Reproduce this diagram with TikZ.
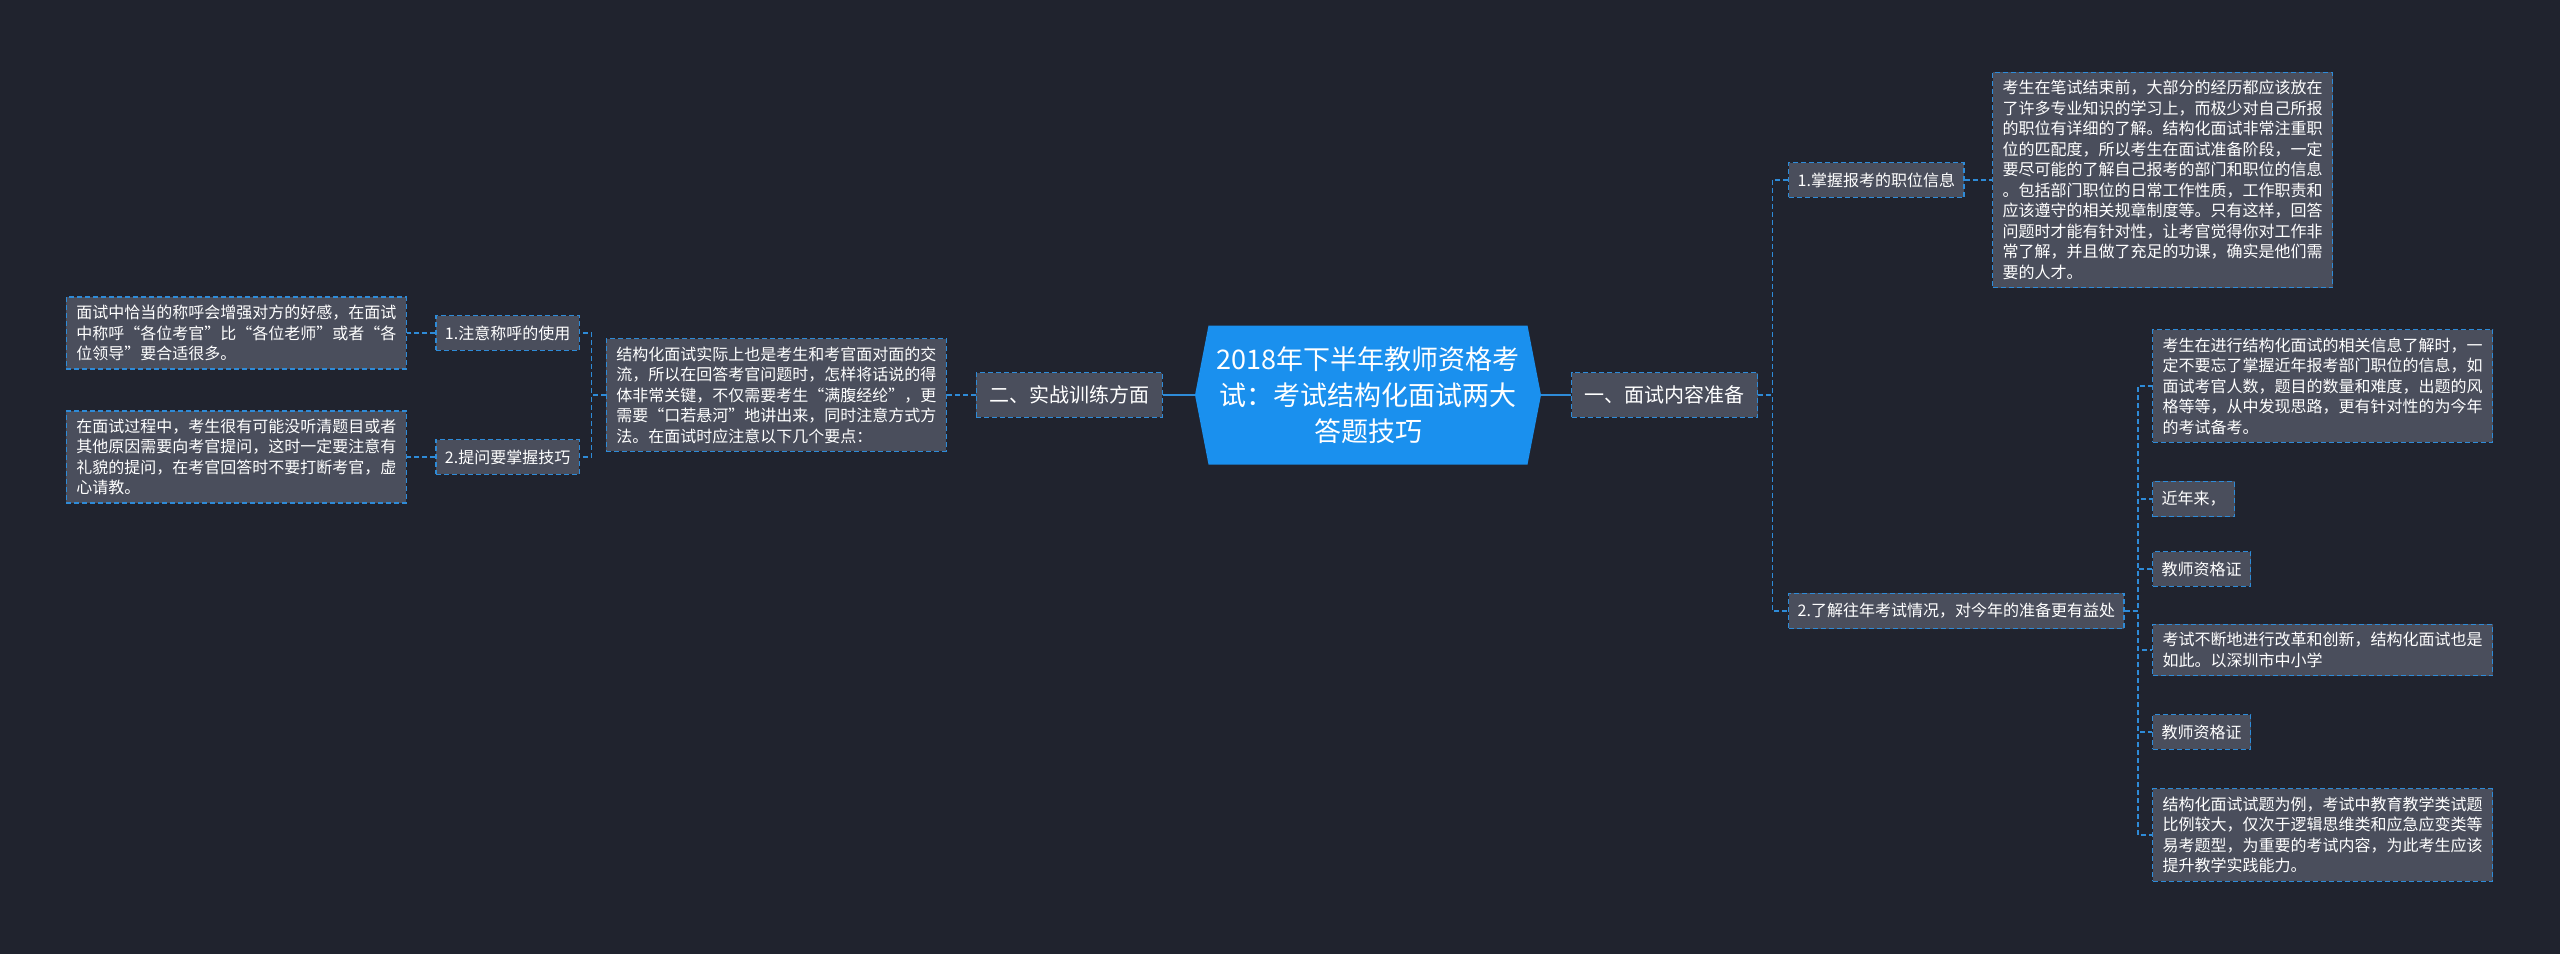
\documentclass[tikz,border=0pt]{standalone}
\usepackage{fontspec}
\setmainfont{Noto Sans CJK SC}
\usetikzlibrary{shapes.symbols}
\definecolor{bgdark}{HTML}{20232E}
\definecolor{boxgray}{HTML}{4A4E5C}
\definecolor{linkblue}{HTML}{2E8BD8}
\definecolor{rootblue}{HTML}{1A90EE}

\begin{document}
\begin{tikzpicture}[x=1pt, y=-1pt,
    rootnode/.style={signal, signal to=east and west, signal pointer angle=158, fill=rootblue, minimum width=346pt, minimum height=139pt, inner sep=0pt, align=center, text=white, font=\fontsize{27}{36}\selectfont},
    boxed/.style={draw=linkblue, dash pattern=on 5pt off 3pt, line width=1.4pt, fill=boxgray, text=white},
    topic/.style={boxed, inner xsep=13pt, inner ysep=13pt, font=\fontsize{20}{24}\selectfont},
    sub/.style={boxed, inner xsep=9pt, inner ysep=10pt, font=\fontsize{16}{20}\selectfont},
    leaf/.style={boxed, align=left, text width=320pt, inner xsep=10pt, inner ysep=8pt, font=\fontsize{16}{20.5}\selectfont},
    link/.style={draw=linkblue, line width=1.5pt, dash pattern=on 5pt off 3pt},
    rootlink/.style={draw=linkblue, line width=2pt}]

    % Background
    \fill[bgdark] (0,0) rectangle (2560,954);

    % Root
    \node (root) at (1368,395) [rootnode] {2018年下半年教师资格考\\试：考试结构化面试两大\\答题技巧};

    % Right side
    \node (prep) at (1571,395) [topic, anchor=west] {一、面试内容准备};

    \node (job) at (1788,180) [sub, anchor=west] {1.掌握报考的职位信息};
    \node (jobtxt) at (1992,180) [leaf, anchor=west] {考生在笔试结束前，大部分的经历都应该放在\\了许多专业知识的学习上，而极少对自己所报\\的职位有详细的了解。结构化面试非常注重职\\位的匹配度，所以考生在面试准备阶段，一定\\要尽可能的了解自己报考的部门和职位的信息\\。包括部门职位的日常工作性质，工作职责和\\应该遵守的相关规章制度等。只有这样，回答\\问题时才能有针对性，让考官觉得你对工作非\\常了解，并且做了充足的功课，确实是他们需\\要的人才。};

    \node (past) at (1788,611) [sub, anchor=west] {2.了解往年考试情况，对今年的准备更有益处};
    \node (past1) at (2152,386) [leaf, anchor=west] {考生在进行结构化面试的相关信息了解时，一\\定不要忘了掌握近年报考部门职位的信息，如\\面试考官人数，题目的数量和难度，出题的风\\格等等，从中发现思路，更有针对性的为今年\\的考试备考。};
    \node (past2) at (2152,499) [sub, anchor=west] {近年来，};
    \node (past3) at (2152,569) [sub, anchor=west] {教师资格证};
    \node (past4) at (2152,650) [leaf, anchor=west] {考试不断地进行改革和创新，结构化面试也是\\如此。以深圳市中小学};
    \node (past5) at (2152,732) [sub, anchor=west] {教师资格证};
    \node (past6) at (2152,835) [leaf, anchor=west] {结构化面试试题为例，考试中教育教学类试题\\比例较大，仅次于逻辑思维类和应急应变类等\\易考题型，为重要的考试内容，为此考生应该\\提升教学实践能力。};

    % Left side
    \node (drill) at (1163,395) [topic, anchor=east] {二、实战训练方面};
    \node (drilltxt) at (947,395) [leaf, anchor=east] {结构化面试实际上也是考生和考官面对面的交\\流，所以在回答考官问题时，怎样将话说的得\\体非常关键，不仅需要考生“满腹经纶”，更\\需要“口若悬河”地讲出来，同时注意方式方\\法。在面试时应注意以下几个要点：};

    \node (call) at (580,333) [sub, anchor=east] {1.注意称呼的使用};
    \node (calltxt) at (407,333) [leaf, anchor=east] {面试中恰当的称呼会增强对方的好感，在面试\\中称呼“各位考官”比“各位老师”或者“各\\位领导”要合适很多。};
    \node (ask) at (580,457) [sub, anchor=east] {2.提问要掌握技巧};
    \node (asktxt) at (407,457) [leaf, anchor=east] {在面试过程中，考生很有可能没听清题目或者\\其他原因需要向考官提问，这时一定要注意有\\礼貌的提问，在考官回答时不要打断考官，虚\\心请教。};

    % Edges
    \draw[rootlink] (root.east) -- (prep.west);
    \draw[rootlink] (root.west) -- (drill.east);

    \draw[link] (prep.east) -- ++(14,0) |- (job.west);
    \draw[link] (prep.east) -- ++(14,0) |- (past.west);
    \draw[link] (job.east) -- (jobtxt.west);

    \foreach \k in {1,...,6}
        \draw[link] (past.east) -- ++(13,0) |- (past\k.west);

    \draw[link] (drill.west) -- (drilltxt.east);
    \draw[link] (drilltxt.west) -- ++(-14,0) |- (call.east);
    \draw[link] (drilltxt.west) -- ++(-14,0) |- (ask.east);
    \draw[link] (call.west) -- (calltxt.east);
    \draw[link] (ask.west) -- (asktxt.east);

\end{tikzpicture}
\end{document}
